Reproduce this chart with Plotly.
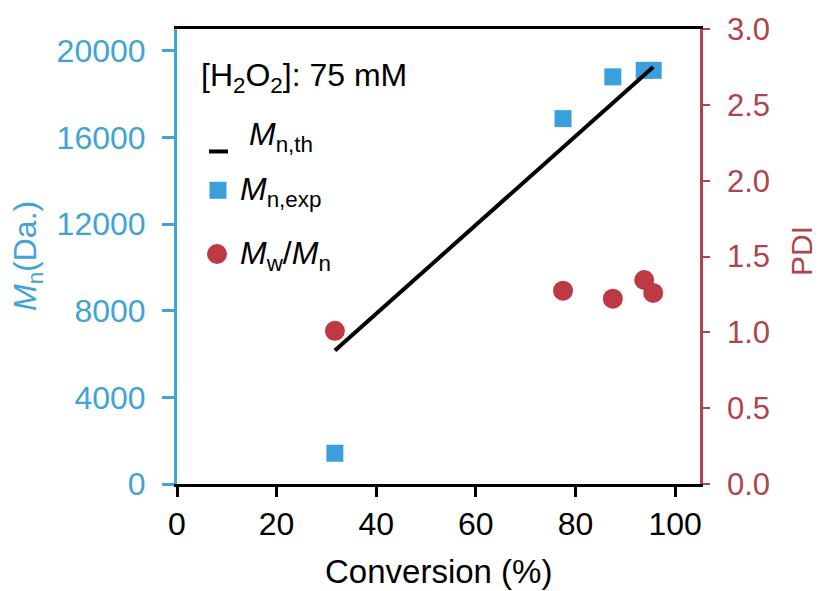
import plotly.graph_objects as go

# Data
conversion = [31.7, 77.5, 87.5, 93.8, 95.6]          # %
mn_exp = [1420, 16870, 18800, 19100, 19100]          # Da
mn_th = [6160, 15550, 17600, 18900, 19260]           # Da
pdi = [1.01, 1.275, 1.222, 1.345, 1.26]

x_ticks = [0, 20, 40, 60, 80, 100]
y_ticks = [0, 4000, 8000, 12000, 16000, 20000]
y2_ticks = [0, 0.5, 1.0, 1.5, 2.0, 2.5, 3.0]

BLUE = "#3a9fdb"
BLUE_AX = "#42a3d8"
RED = "#bd3a45"
RED_AX = "#b0444d"
FONT = "Liberation Sans, Arial, sans-serif"

W, H = 818, 591
L, R, T, B = 177, 118, 27, 107
PW, PH = W - L - R, H - T - B


def px(xp):
    return (xp - L) / PW


def py(yp):
    return (H - B - yp) / PH


fig = go.Figure()
fig.add_trace(go.Scatter(x=conversion, y=mn_exp, mode="markers",
                         marker=dict(symbol="square", size=17, color=BLUE, line=dict(width=0)),
                         name="Mn,exp", showlegend=False))
fig.add_trace(go.Scatter(x=conversion, y=mn_th, mode="lines",
                         line=dict(color="black", width=4),
                         name="Mn,th", showlegend=False))
fig.add_trace(go.Scatter(x=conversion, y=pdi, mode="markers", yaxis="y2",
                         marker=dict(symbol="circle", size=20, color=RED, line=dict(width=0)),
                         name="Mw/Mn", showlegend=False))

fig.update_layout(
    width=W, height=H,
    margin=dict(l=L, r=R, t=T, b=B, pad=0),
    paper_bgcolor="white", plot_bgcolor="white",
    font=dict(family=FONT, size=30, color="black"),
    xaxis=dict(range=[0, 105], tickvals=x_ticks, ticks="outside", ticklen=10, tickwidth=3,
               tickcolor="black", showline=True, linecolor="black", linewidth=3, mirror=True,
               showgrid=False, zeroline=False, tickfont=dict(size=32, color="black")),
    yaxis=dict(range=[0, 21010], tickvals=y_ticks, tickformat="d", ticks="outside", ticklen=12,
               tickwidth=3, tickcolor=BLUE_AX, showline=True, linecolor=BLUE_AX, linewidth=3,
               showgrid=False, zeroline=False, tickfont=dict(size=32, color=BLUE_AX),
               ticklabelstandoff=10),
    yaxis2=dict(range=[0, 3], tickvals=y2_ticks, tickformat=".1f", overlaying="y", side="right",
                ticks="outside", ticklen=7, tickwidth=2, tickcolor=RED_AX, showline=True,
                linecolor=RED_AX, linewidth=2.5, showgrid=False, zeroline=False,
                tickfont=dict(size=31, color=RED_AX), ticklabelstandoff=11),
)

# Axis titles
fig.add_annotation(text="Conversion (%)", xref="paper", yref="paper", x=0.5, y=py(572),
                   xanchor="center", yanchor="middle", showarrow=False,
                   font=dict(size=33, color="black"))
fig.add_annotation(text="<i>M</i><sub>n</sub>(Da.)", xref="paper", yref="paper", x=px(27), y=py(255),
                   xanchor="center", yanchor="middle", showarrow=False, textangle=-90,
                   font=dict(size=32, color=BLUE_AX))
fig.add_annotation(text="PDI", xref="paper", yref="paper", x=px(801), y=py(250),
                   xanchor="center", yanchor="middle", showarrow=False, textangle=-90,
                   font=dict(size=30, color=RED_AX))

# Legend block
fig.add_annotation(text="[H<sub>2</sub>O<sub>2</sub>]: 75 mM", xref="paper", yref="paper",
                   x=px(199), y=py(76), xanchor="left", yanchor="middle", showarrow=False,
                   font=dict(size=32, color="black"))
fig.add_annotation(text="<i>M</i><sub>n,th</sub>", xref="paper", yref="paper",
                   x=px(247), y=py(135), xanchor="left", yanchor="middle", showarrow=False,
                   font=dict(size=32, color="black"))
fig.add_annotation(text="<i>M</i><sub>n,exp</sub>", xref="paper", yref="paper",
                   x=px(238), y=py(190), xanchor="left", yanchor="middle", showarrow=False,
                   font=dict(size=32, color="black"))
fig.add_annotation(text="<i>M</i><sub>w</sub>/<i>M</i><sub>n</sub>", xref="paper", yref="paper",
                   x=px(238), y=py(254), xanchor="left", yanchor="middle", showarrow=False,
                   font=dict(size=32, color="black"))

fig.add_shape(type="line", xref="paper", yref="paper", x0=px(209), x1=px(228), y0=py(150), y1=py(150),
              line=dict(color="black", width=4))
fig.add_shape(type="rect", xref="paper", yref="paper", xsizemode="pixel", ysizemode="pixel",
              xanchor=px(218), yanchor=py(189), x0=-8.5, x1=8.5, y0=-8.5, y1=8.5,
              fillcolor=BLUE, line=dict(width=0))
fig.add_shape(type="circle", xref="paper", yref="paper", xsizemode="pixel", ysizemode="pixel",
              xanchor=px(217), yanchor=py(253), x0=-10, x1=10, y0=-10, y1=10,
              fillcolor=RED, line=dict(width=0))

fig.write_html("out.html", config={"displayModeBar": False},
               post_script="document.body.style.margin='0';document.body.style.padding='0';"
                           "document.documentElement.style.overflow='hidden';")
